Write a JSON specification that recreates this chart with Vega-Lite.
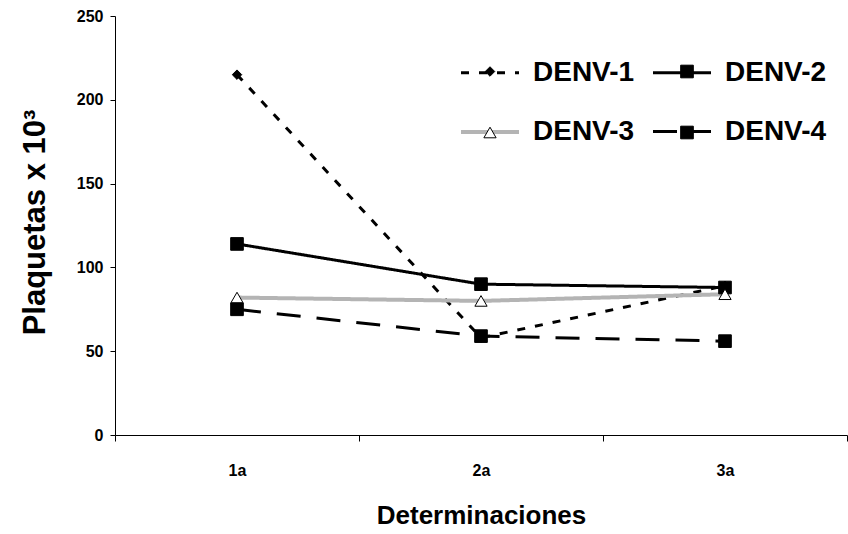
{
  "$schema": "https://vega.github.io/schema/vega-lite/v6.json",
  "width": 732,
  "height": 419,
  "autosize": {"type": "none"},
  "padding": {"left": 115, "top": 16, "right": 1, "bottom": 99},
  "background": "white",
  "config": {"view": {"stroke": null}, "font": "Liberation Sans"},
  "data": {
    "values": [
      {"det": "1a", "serie": "DENV-1", "plaq": 215},
      {"det": "2a", "serie": "DENV-1", "plaq": 58},
      {"det": "3a", "serie": "DENV-1", "plaq": 89},
      {"det": "1a", "serie": "DENV-2", "plaq": 114},
      {"det": "2a", "serie": "DENV-2", "plaq": 90},
      {"det": "3a", "serie": "DENV-2", "plaq": 88},
      {"det": "1a", "serie": "DENV-3", "plaq": 82},
      {"det": "2a", "serie": "DENV-3", "plaq": 80},
      {"det": "3a", "serie": "DENV-3", "plaq": 84},
      {"det": "1a", "serie": "DENV-4", "plaq": 75},
      {"det": "2a", "serie": "DENV-4", "plaq": 59},
      {"det": "3a", "serie": "DENV-4", "plaq": 56}
    ]
  },
  "encoding": {
    "x": {
      "field": "det",
      "type": "nominal",
      "sort": ["1a", "2a", "3a"],
      "scale": {"paddingInner": 0, "paddingOuter": 0},
      "axis": {
        "title": "Determinaciones",
        "titleFontSize": 26,
        "titleFontWeight": "bold",
        "titleColor": "black",
        "titleX": 366,
        "titleY": 80,
        "titleBaseline": "middle",
        "titleAlign": "center",
        "labelFontSize": 16,
        "labelFontWeight": "bold",
        "labelColor": "black",
        "labelAngle": 0,
        "labelPadding": 21,
        "tickBand": "extent",
        "tickSize": 6,
        "tickColor": "black",
        "domainColor": "black",
        "grid": false
      }
    },
    "y": {
      "field": "plaq",
      "type": "quantitative",
      "scale": {"domain": [0, 250]},
      "axis": {
        "title": "Plaquetas x 10³",
        "titleFontSize": 31,
        "titleFontWeight": "bold",
        "titleColor": "black",
        "titleX": -80,
        "titleY": 206,
        "titleBaseline": "middle",
        "titleAlign": "center",
        "values": [0, 50, 100, 150, 200, 250],
        "labelFontSize": 16,
        "labelFontWeight": "bold",
        "labelColor": "black",
        "labelPadding": 7,
        "tickSize": 5,
        "tickColor": "black",
        "domainColor": "black",
        "grid": false
      }
    }
  },
  "layer": [
    {
      "mark": {"type": "line"},
      "encoding": {
        "stroke": {
          "field": "serie",
          "type": "nominal",
          "scale": {"domain": ["DENV-1", "DENV-2", "DENV-3", "DENV-4"], "range": ["black", "black", "#b4b4b4", "black"]},
          "legend": {
            "title": null,
            "orient": "none",
            "direction": "horizontal",
            "legendX": 344,
            "legendY": 26,
            "columns": 2,
            "columnPadding": 12,
            "rowPadding": 14,
            "padding": 0,
            "symbolType": "stroke",
            "symbolSize": 3364,
            "labelFontSize": 28,
            "labelFontWeight": "bold",
            "labelColor": "black",
            "labelOffset": 12,
            "labelLimit": 300
          }
        },
        "strokeDash": {
          "field": "serie",
          "type": "nominal",
          "scale": {"domain": ["DENV-1", "DENV-2", "DENV-3", "DENV-4"], "range": [[8, 10], [1, 0], [1, 0], [24, 16]]}
        },
        "strokeWidth": {
          "field": "serie",
          "type": "nominal",
          "scale": {"type": "ordinal", "domain": ["DENV-1", "DENV-2", "DENV-3", "DENV-4"], "range": [3, 3, 4, 3]}
        }
      }
    },
    {
      "mark": {"type": "point", "filled": true, "stroke": "black", "strokeWidth": 1, "opacity": 1},
      "encoding": {
        "shape": {
          "field": "serie",
          "type": "nominal",
          "scale": {"range": ["diamond", "square", "triangle-up", "square"]},
          "legend": {
            "title": null,
            "orient": "none",
            "direction": "horizontal",
            "legendX": 361,
            "legendY": 41.5,
            "columns": 2,
            "columnPadding": 157,
            "rowPadding": 33,
            "padding": 0,
            "symbolStrokeColor": "black",
            "symbolStrokeWidth": 1,
            "labelFontSize": 28,
            "labelExpr": "''",
            "labelOffset": 12
          }
        },
        "fill": {
          "field": "serie",
          "type": "nominal",
          "scale": {"range": ["black", "black", "white", "black"]}
        },
        "size": {
          "field": "serie",
          "type": "nominal",
          "scale": {"type": "ordinal", "range": [90, 160, 150, 160]}
        }
      }
    }
  ]
}
